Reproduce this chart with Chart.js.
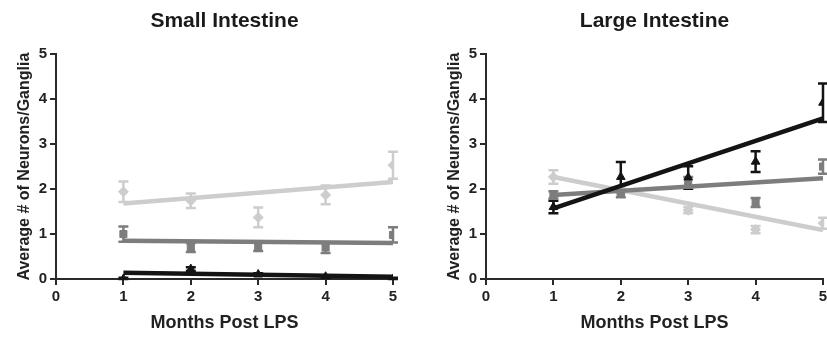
<!DOCTYPE html>
<html>
<head>
<meta charset="utf-8">
<script src="https://cdn.jsdelivr.net/npm/chart.js@4"></script>
<style>
  html, body { margin: 0; padding: 0; background: #fff; overflow: hidden; width: 827px; height: 337px; }
  canvas { position: absolute; top: 0; }
  #chartSmall { left: 0; }
  #chartLarge { left: 430px; }
</style>
</head>
<body>
<canvas id="chartSmall" width="410" height="337"></canvas>
<canvas id="chartLarge" width="410" height="337"></canvas>
<script>
let months = [1, 2, 3, 4, 5];
let xTicks = [0, 1, 2, 3, 4, 5];
let yTicks = [0, 1, 2, 3, 4, 5];

// Small intestine: mean and SEM for each group
let siLight = [1.94, 1.74, 1.37, 1.87, 2.53];
let siLightErr = [0.23, 0.16, 0.22, 0.21, 0.3];
let siMid = [1.0, 0.7, 0.72, 0.7, 0.98];
let siMidErr = [0.17, 0.1, 0.1, 0.12, 0.17];
let siDark = [0.0, 0.22, 0.1, 0.05, 0.0];
let siDarkErr = [0.03, 0.04, 0.03, 0.03, 0.03];
// fitted lines (value at month 1 and month 5)
let siLightFit = [1.68, 2.16];
let siMidFit = [0.85, 0.8];
let siDarkFit = [0.14, 0.05];

// Large intestine
let liLight = [2.27, 1.95, 1.53, 1.1, 1.24];
let liLightErr = [0.15, 0.06, 0.07, 0.08, 0.12];
let liMid = [1.87, 1.9, 2.15, 1.7, 2.5];
let liMidErr = [0.08, 0.08, 0.12, 0.1, 0.16];
let liDark = [1.6, 2.27, 2.26, 2.61, 3.92];
let liDarkErr = [0.14, 0.33, 0.25, 0.23, 0.43];
let liLightFit = [2.27, 1.09];
let liMidFit = [1.87, 2.24];
let liDarkFit = [1.57, 3.57];

let colLight = '#cdcdcd';
let colMid = '#7d7d7d';
let colDark = '#141414';
let fontFam = '"Liberation Sans", Arial, sans-serif';

function pts(vals) {
    return months.map((m, i) => ({ x: m, y: vals[i] }));
}
function fitPts(fit) {
    return [{ x: months[0], y: fit[0] }, { x: months[months.length - 1], y: fit[1] }];
}

let errorBars = {
    id: 'errorBars',
    beforeDatasetsDraw(chart) {
        let ctx = chart.ctx;
        let xs = chart.scales.x, ys = chart.scales.y;
        chart.data.datasets.forEach(ds => {
            if (!ds.err) return;
            ctx.save();
            ctx.strokeStyle = ds.borderColor;
            ctx.lineWidth = 2.5;
            ds.data.forEach((p, i) => {
                let px = xs.getPixelForValue(p.x);
                let top = ys.getPixelForValue(p.y + ds.err[i]);
                let bot = ys.getPixelForValue(Math.max(p.y - ds.err[i], 0));
                ctx.beginPath();
                ctx.moveTo(px, top); ctx.lineTo(px, bot);
                ctx.moveTo(px - 5, top); ctx.lineTo(px + 5, top);
                ctx.moveTo(px - 5, bot); ctx.lineTo(px + 5, bot);
                ctx.stroke();
            });
            ctx.restore();
        });
    }
};

function makeChart(id, title, light, lightErr, mid, midErr, dark, darkErr, lightFit, midFit, darkFit) {
    let pointSet = (vals, err, color, style, order) => ({
        data: pts(vals), err: err, showLine: false,
        pointStyle: style, pointRadius: 5, pointHoverRadius: 5,
        backgroundColor: color, borderColor: color, borderWidth: 1, order: order
    });
    let lineSet = (fit, color, order) => ({
        data: fitPts(fit), showLine: true, pointRadius: 0,
        borderColor: color, borderWidth: 4.5, order: order
    });
    return new Chart(document.getElementById(id).getContext('2d'), {
        type: 'scatter',
        data: {
            datasets: [
                lineSet(darkFit, colDark, 0),
                pointSet(dark, darkErr, colDark, 'triangle', 1),
                lineSet(midFit, colMid, 2),
                pointSet(mid, midErr, colMid, 'rect', 3),
                lineSet(lightFit, colLight, 4),
                pointSet(light, lightErr, colLight, 'rectRot', 5)
            ]
        },
        options: {
            responsive: false,
            animation: false,
            layout: { padding: { left: 15, right: 17, top: 0, bottom: 0 } },
            plugins: {
                legend: { display: false },
                tooltip: { enabled: false },
                title: {
                    display: true, text: title, fullSize: false,
                    color: '#1a1a1a',
                    font: { family: fontFam, size: 21, weight: 'bold' },
                    padding: { top: 9, bottom: 20 }
                }
            },
            scales: {
                x: {
                    type: 'linear', min: 0, max: 5,
                    afterBuildTicks: s => { s.ticks = xTicks.map(v => ({ value: v })); },
                    afterFit: s => { s.height = 58; },
                    grid: { display: true, drawOnChartArea: false, drawTicks: true, tickLength: 6, color: '#2a2a2a', lineWidth: 2 },
                    border: { display: true, color: '#2a2a2a', width: 2 },
                    ticks: { color: '#222', padding: 3, font: { family: fontFam, size: 15, weight: 'bold' } },
                    title: {
                        display: true, text: 'Months Post LPS', color: '#222',
                        font: { family: fontFam, size: 18, weight: 'bold' },
                        padding: { top: 2, bottom: 3 }
                    }
                },
                y: {
                    type: 'linear', min: 0, max: 5,
                    afterBuildTicks: s => { s.ticks = yTicks.map(v => ({ value: v })); },
                    afterFit: s => { s.width = 41; },
                    grid: { display: true, drawOnChartArea: false, drawTicks: true, tickLength: 6, color: '#2a2a2a', lineWidth: 2 },
                    border: { display: true, color: '#2a2a2a', width: 2 },
                    ticks: { color: '#222', padding: 3, font: { family: fontFam, size: 15, weight: 'bold' } },
                    title: {
                        display: true, text: 'Average # of Neurons/Ganglia', color: '#222',
                        font: { family: fontFam, size: 16, weight: 'bold' },
                        padding: { top: 0, bottom: 0 }
                    }
                }
            }
        },
        plugins: [errorBars]
    });
}

makeChart('chartSmall', 'Small Intestine', siLight, siLightErr, siMid, siMidErr, siDark, siDarkErr, siLightFit, siMidFit, siDarkFit);
makeChart('chartLarge', 'Large Intestine', liLight, liLightErr, liMid, liMidErr, liDark, liDarkErr, liLightFit, liMidFit, liDarkFit);
</script>
</body>
</html>
